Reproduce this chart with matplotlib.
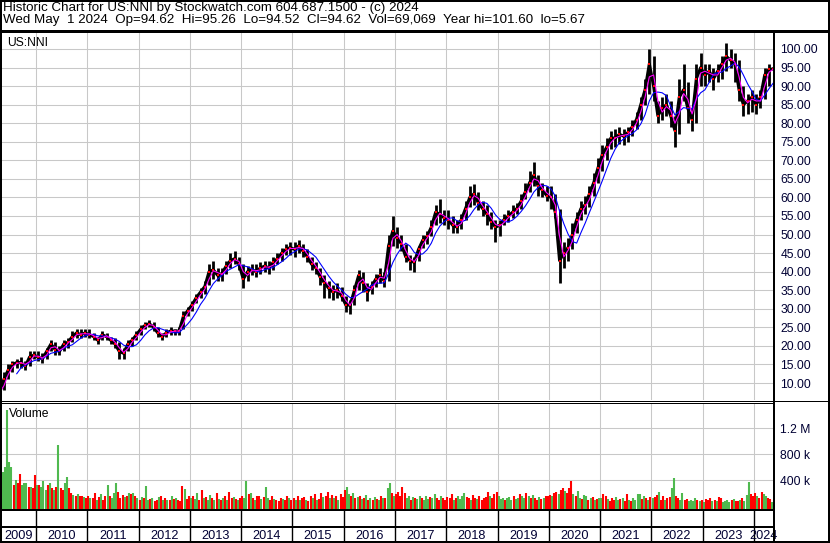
import numpy as np
import pandas as pd
import matplotlib
matplotlib.use("Agg")
import matplotlib.pyplot as plt
from matplotlib.lines import Line2D

plt.rcParams["font.family"] = ["Liberation Sans", "DejaVu Sans"]

W, H = 830, 543

# monthly close / high / low, Apr 2009 .. May 2024
close = [
    7.5, 11, 13.5, 15, 15.5, 15.5, 14.5, 17, 17.5,                           # 2009
    17, 16.5, 18.5, 20.5, 19, 18.5, 20.5, 21, 22.5, 23.5, 23, 23.5,          # 2010
    23, 22.5, 21.5, 23, 22.5, 21.5, 20.5, 18.5, 18, 20.5, 21.5, 23,          # 2011
    24.5, 25.5, 26, 25, 23.5, 22.5, 23.5, 24, 24, 24, 28, 29.5,              # 2012
    31, 33, 34.5, 36, 40, 40.5, 39, 39.5, 41.5, 43, 43.5, 42,                # 2013
    38, 40, 40.5, 40, 41, 41.5, 41, 42.5, 43.5, 45, 46, 46.5,                # 2014
    46, 47, 45.5, 44, 42, 41, 38.5, 37, 35.5, 34.5, 35, 33.5,                # 2015
    31, 31, 35, 39, 37, 34.5, 36, 38, 39, 37.5, 47, 51,                      # 2016
    49, 47.5, 44, 43, 42.5, 46, 48.5, 49.5, 52, 56, 55.5, 54.5,              # 2017
    54, 52.5, 52, 54, 57, 60, 61, 58.5, 57, 55.5, 53.5, 52,                  # 2018
    52.5, 54, 55, 56, 57, 59, 61.5, 64, 66, 63, 62, 60.5,                    # 2019
    60, 56, 43, 45, 46.5, 50, 54, 57, 58, 61, 64, 68,                        # 2020
    71.5, 73.5, 76, 76, 77, 76.5, 77.5, 79, 81, 85, 89, 96,                  # 2021
    90, 82, 84, 85, 82, 78, 87, 89, 84, 81, 92, 95,                          # 2022
    93, 94, 92, 94, 96, 98, 97, 96, 89, 85, 86, 87,                          # 2023
    85, 87, 93, 94.5, 94.62,                                                 # 2024
]
high = [
    9, 13, 15, 16, 16.5, 17, 16, 18.5, 18.5,
    18.5, 18, 19.5, 21.5, 21, 20, 21.5, 22, 24, 24.5, 24.5, 24.5,
    24.5, 23.5, 22.5, 24, 23.5, 22.5, 22, 21, 19.5, 21.5, 22.5, 24,
    25.5, 26.5, 27, 26.5, 25, 23.5, 24.5, 25, 24.5, 25, 29.5, 30.5,
    32, 34, 35.5, 37.5, 42, 43, 41, 41, 43, 45, 45.5, 44,
    42, 41.5, 42, 42, 42.5, 43, 43, 44, 45, 46.5, 47.5, 48,
    48, 48.5, 47.5, 46, 44, 42.5, 41, 39, 37.5, 36.5, 37, 36,
    33.5, 32.5, 36.5, 40.5, 40, 37, 37.5, 39.5, 41, 40, 50, 55,
    52, 50, 47.5, 44.5, 44, 47, 50, 51, 54, 58, 59.5, 56.5,
    56.5, 55, 54, 55.5, 59, 63, 63.5, 61.5, 59, 58, 56, 54,
    54, 55.5, 56.5, 58, 58.5, 61, 64, 67, 69.5, 66, 64, 63,
    63, 61, 57, 48, 49, 53, 56, 59, 60.5, 63, 66.5, 70.5,
    74, 76, 78, 78.5, 79, 78.5, 79, 81, 83, 87, 92, 100,
    98, 86, 87, 88, 86, 82, 92, 96, 91, 84, 96, 99,
    96, 96, 95, 96, 98, 101.6, 100, 99, 97, 90, 88, 89,
    88, 89, 95, 96, 95.26,
]
low = [
    5.67, 8, 11, 13, 14, 14, 13.5, 14.5, 16.5,
    16, 15.5, 16.5, 18.5, 17.5, 17.5, 18.5, 19.5, 21, 22, 22, 22.5,
    22, 21.5, 20.5, 21.5, 21.5, 20.5, 19.5, 16.5, 16.5, 18.5, 20, 21.5,
    23, 24.5, 25, 24, 22.5, 21.5, 22.5, 23, 23, 23, 24.5, 28,
    29.5, 31.5, 33, 34, 36.5, 38, 37.5, 37.5, 39.5, 41, 42, 40.5,
    35.5, 37.5, 39, 38.5, 39.5, 40, 39.5, 40.5, 42, 43, 44.5, 44.5,
    44, 45, 44, 42.5, 40.5, 39.5, 36.5, 33, 33, 32.5, 33, 32,
    29, 28.5, 31, 35, 34.5, 32, 34, 36, 37, 36, 37.5, 47,
    46.5, 45.5, 42.5, 40.5, 40, 43, 46.5, 47.5, 49.5, 52.5, 53, 52.5,
    51.5, 50.5, 50.5, 51.5, 54, 57.5, 58, 56.5, 55, 52.5, 51.5, 48,
    49.5, 52.5, 53.5, 54.5, 55.5, 57, 59.5, 61.5, 63, 60.5, 60, 59,
    57, 54.5, 37, 41, 43, 46, 50.5, 54, 55.5, 57.5, 60.5, 64,
    67, 70, 73, 73.5, 74.5, 74, 75, 76.5, 78.5, 81, 85, 88,
    86, 80, 81, 82, 79, 73.5, 77, 86, 80, 78, 80, 90,
    90, 91, 89, 91, 92, 94, 95, 91, 86, 82, 82.5, 83,
    82.5, 84, 86.5, 90, 94.52,
]

# volume in thousands, two bars per month (last bar = May 1 2024)
volume_k = [
    300, 860, 520, 600, 1480, 680, 600, 330, 400, 350, 500, 330, 350, 350, 300, 300, 280, 475,
    320, 330, 300, 385, 250, 330, 350, 280, 240, 300, 940, 280, 250, 360, 450, 280, 200, 170, 150, 180, 160, 150, 140, 130,
    150, 120, 130, 200, 100, 140, 180, 90, 150, 320, 160, 120, 200, 350, 215, 130, 170, 140, 160, 200, 180, 200, 150, 120,
    100, 140, 120, 310, 90, 110, 130, 80, 100, 140, 160, 90, 120, 100, 90, 150, 110, 130, 90, 80, 310, 255, 110, 150,
    130, 160, 110, 200, 90, 250, 120, 140, 100, 170, 120, 90, 200, 110, 90, 130, 150, 100, 215, 120, 140, 110, 100, 130,
    150, 120, 385, 180, 200, 130, 90, 150, 160, 110, 140, 300, 130, 90, 150, 110, 100, 80, 130, 110, 90, 150, 120, 100,
    130, 100, 160, 90, 120, 140, 100, 80, 150, 120, 180, 90, 110, 200, 140, 160, 220, 130, 170, 120, 150, 100, 190, 140,
    250, 300, 180, 150, 200, 120, 140, 160, 110, 130, 170, 100, 120, 90, 140, 110, 100, 150, 130, 120, 280, 360, 200, 150,
    180, 220, 150, 300, 200, 130, 160, 100, 140, 120, 110, 150, 130, 100, 160, 110, 140, 120, 190, 130, 100, 150, 120, 90,
    140, 120, 180, 100, 130, 150, 110, 160, 200, 140, 120, 100, 170, 130, 110, 150, 90, 120, 140, 210, 160, 130, 180, 220,
    150, 110, 130, 100, 120, 140, 90, 160, 110, 130, 180, 150, 120, 200, 160, 130, 170, 120, 100, 140, 110, 130, 150, 160,
    170, 150, 200, 215, 180, 240, 280, 230, 200, 280, 385, 190, 150, 230, 130, 110, 170, 160, 100, 120, 140, 90, 110, 130,
    120, 190, 150, 110, 80, 130, 100, 140, 90, 110, 130, 80, 185, 100, 70, 120, 90, 180, 190, 110, 150, 120, 100, 140,
    120, 140, 170, 215, 100, 150, 90, 120, 140, 280, 430, 150, 120, 100, 200, 90, 110, 80, 100, 70, 120, 90, 80, 100,
    60, 110, 100, 130, 70, 90, 80, 140, 120, 60, 80, 100, 60, 90, 110, 80, 70, 90, 120, 80, 170, 370, 180, 150,
    200, 160, 120, 215, 190, 155, 120, 110, 69,
]
# g = up week, r = down week
volume_dir = (
    "gggggggrgrrgggrgrr"
    "grgggrgrgrgrrggrrgrgrrgr"
    "rgrrgrgrrgrgggrrrgrgrgrg"
    "rgrggrgrrgrgrgrgrgrrrgrr"
    "grggrrgrggrgrgrgrgrrgrgr"
    "rggrgrgrrgrggrrgrrrgrrgr"
    "rgrgrrgrrgrgrrgrrgrgrgrr"
    "rggrgrgrgrgrgrgrgrgrggrg"
    "rrrrrggrgrggrgggrggrrgrr"
    "rrrgrggggrrgrrgrrrrrgrrr"
    "gggrgggrggrggrgrgrrgrgrr"
    "rgrrgrrgrrrgrggrggrgrgrg"
    "grrgrrrggrgrrgrggggrgrgr"
    "grrgrrgrrggrrggrrggggrgr"
    "grrrgrgrrggggrgrrgrgggrr"
    "rgrrggrrg"
)

year_labels = [str(y) for y in range(2009, 2025)]
price_ticks = list(range(10, 101, 5))
vol_ticks = [400e3, 800e3, 1.2e6]
vol_tick_labels = ["400 k", "800 k", "1.2 M"]

header1 = "Historic Chart for US:NNI by Stockwatch.com 604.687.1500 - (c) 2024"
header2 = ("Wed May  1 2024  Op=94.62  Hi=95.26  Lo=94.52  Cl=94.62  "
           "Vol=69,069  Year hi=101.60  lo=5.67")

# ---- time axis (decimal years)
months = pd.period_range("2009-04", "2024-05", freq="M")
t = np.array(months.year + (months.month - 0.5) / 12)
vt = []
for p in months[:-1]:
    vt += [p.year + (p.month - 0.75) / 12, p.year + (p.month - 0.25) / 12]
vt.append(2024 + 4.25 / 12)
vt = np.array(vt)

close_s = pd.Series(close)
ma_fast = close_s.rolling(2, min_periods=1).mean()
ma_slow = close_s.rolling(5).mean()

X0, X1 = 2009.318, 2024.389
GRID = "#c8c8c8"
TXT = "#000033"
FS = 8.7


def fx(x):
    return x / W


def fy(y):
    return 1 - y / H


def add_ax(x0, y0, x1, y1):
    a = fig.add_axes([fx(x0), fy(y1), fx(x1) - fx(x0), fy(y0) - fy(y1)])
    for s in a.spines.values():
        s.set_visible(False)
    return a


def hline(y, x0, x1, lw):
    fig.add_artist(Line2D([fx(x0), fx(x1)], [fy(y), fy(y)], color="black", lw=lw * 0.72))


def vline(x, y0, y1, lw):
    fig.add_artist(Line2D([fx(x), fx(x)], [fy(y0), fy(y1)], color="black", lw=lw * 0.72))


fig = plt.figure(figsize=(W / 100, H / 100), dpi=100)
fig.patch.set_facecolor("white")

# ---- price panel
ax = add_ax(1, 32, 774, 400)
ax.set_xlim(X0, X1)
ax.set_ylim(5.42, 104.58)
ax.set_xticks(range(2010, 2025))
ax.set_yticks(price_ticks)
ax.grid(True, color=GRID, lw=0.75)
ax.set_axisbelow(True)
ax.tick_params(axis="x", length=0, labelbottom=False)
ax.tick_params(axis="y", length=0, pad=4.5, labelsize=FS, labelcolor=TXT,
               left=False, labelleft=False, right=False, labelright=True)
ax.set_yticklabels(["%.2f" % v for v in price_ticks])
ax.vlines(t, low, high, color="black", lw=2.0, zorder=2)
ax.plot(t, close, color="black", lw=2.2, zorder=2)
ax.plot(t, close, "s", color="red", ms=1.5, mew=0, zorder=3)
ax.plot(t, ma_slow, color="#0000ff", lw=0.8, zorder=4)
ax.plot(t, ma_fast, color="#ff00ff", lw=0.8, zorder=5)
ax.text(6 / 773, 1 - 10.5 / 368, "US:NNI", transform=ax.transAxes, fontsize=FS,
        ha="left", va="center", color="black")

# ---- volume panel
axv = add_ax(1, 403, 774, 509)
vlo = -46e3
axv.set_xlim(X0, X1)
axv.set_ylim(vlo, 1.585e6)
axv.set_xticks(range(2010, 2025))
axv.set_yticks(vol_ticks)
axv.set_yticklabels(vol_tick_labels)
axv.grid(True, color=GRID, lw=0.75)
axv.set_axisbelow(True)
axv.tick_params(axis="x", length=0, labelbottom=False)
axv.tick_params(axis="y", length=0, pad=4.5, labelsize=FS, labelcolor=TXT,
                left=False, labelleft=False, right=False, labelright=True)
vcol = ["#4fb94f" if c == "g" else "#ff0000" for c in volume_dir]
axv.vlines(vt, vlo, np.array(volume_k) * 1000, colors=vcol, lw=1.5, zorder=2)
axv.text(8 / 773, 1 - 11 / 106, "Volume", transform=axv.transAxes, fontsize=FS,
         ha="left", va="center", color="black")

# ---- date strip
axd = add_ax(1, 510, 774, 541)
axd.set_xlim(X0, X1)
axd.set_ylim(0, 1)
axd.set_xticks([])
axd.set_yticks([])
for y in range(2010, 2025):
    axd.axvline(y, color="black", lw=1.0)
for lab in year_labels:
    y = int(lab)
    c = (max(y, X0) + min(y + 1, X1)) / 2
    axd.text(c, 2 / 31, lab, ha="center", va="baseline", fontsize=9.2, color=TXT)

# ---- frame lines
hline(30.5, 0, 830, 3)
hline(400.5, 0, 830, 1)
hline(402.5, 0, 774, 1)
hline(509.5, 0, 774, 2)
hline(527, 0, 774, 2)
hline(541.5, 0, 830, 2)
vline(774, 31, 542, 2)
vline(0.5, 0, 543, 2)
vline(828.5, 0, 543, 2)
hline(0.5, 0, 830, 2)

fig.text(fx(3), fy(10.8), header1, fontsize=9.6, ha="left", va="baseline")
fig.text(fx(3), fy(23), header2, fontsize=9.6, ha="left", va="baseline")

fig.savefig("out.png", dpi=100, facecolor="white")
